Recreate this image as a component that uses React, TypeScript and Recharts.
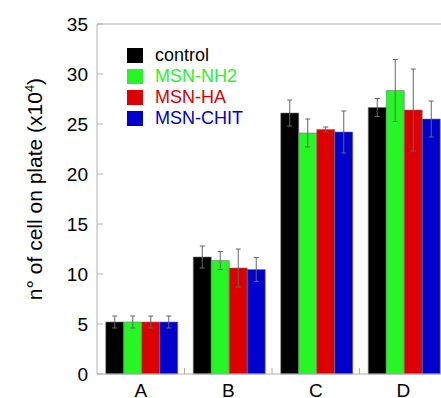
import { BarChart, Bar, XAxis, YAxis, ErrorBar, Legend, ReferenceLine } from "recharts";

const categories = ["A", "B", "C", "D"];
const controlValues = [5.2, 11.7, 26.1, 26.65];
const controlErrors = [0.6, 1.1, 1.3, 0.9];
const nh2Values = [5.2, 11.35, 24.1, 28.35];
const nh2Errors = [0.6, 0.9, 1.4, 3.1];
const haValues = [5.2, 10.6, 24.45, 26.4];
const haErrors = [0.6, 1.9, 0.25, 4.1];
const chitValues = [5.2, 10.45, 24.2, 25.5];
const chitErrors = [0.6, 1.2, 2.1, 1.8];
const yTicks = [0, 5, 10, 15, 20, 25, 30, 35];

const SERIES = [
  { key: "control", name: "control", color: "#000000", text: "#000000" },
  { key: "nh2", name: "MSN-NH2", color: "#26f526", text: "#26f526" },
  { key: "ha", name: "MSN-HA", color: "#dd0000", text: "#dd0000" },
  { key: "chit", name: "MSN-CHIT", color: "#0000cc", text: "#0000cc" },
];

const FONT = "'Liberation Sans', Arial, sans-serif";
const AXIS = "#b0b0b0";

const data = categories.map((c, i) => ({
  name: c,
  control: controlValues[i],
  controlErr: controlErrors[i],
  nh2: nh2Values[i],
  nh2Err: nh2Errors[i],
  ha: haValues[i],
  haErr: haErrors[i],
  chit: chitValues[i],
  chitErr: chitErrors[i],
}));

// category label in the middle, small inward tick on the right edge of each band
function CategoryTick(props: any) {
  const { x, y, payload, width, visibleTicksCount } = props;
  const half = payload.offset ? payload.offset : width / visibleTicksCount / 2;
  const edge = payload.coordinate + half;
  return (
    <g>
      <line x1={edge} x2={edge} y1={y} y2={y - 6} stroke={AXIS} />
      <text x={x} y={y + 23} textAnchor="middle" fill="#000" fontSize={19} fontFamily={FONT}>
        {payload.value}
      </text>
    </g>
  );
}

function YLabel(props: any) {
  const { viewBox } = props;
  const cx = viewBox.x + 42;
  const cy = viewBox.y + viewBox.height / 2 - 10;
  return (
    <text
      x={cx}
      y={cy}
      transform={`rotate(-90 ${cx} ${cy})`}
      textAnchor="middle"
      fill="#000"
      fontSize={21}
      fontFamily={FONT}
    >
      n° of cell on plate (x10
      <tspan dy={-8} fontSize={13}>4</tspan>
      <tspan dy={8}>)</tspan>
    </text>
  );
}

function LegendBox() {
  return (
    <div style={{ fontFamily: FONT }}>
      {SERIES.map((s) => (
        <div key={s.key} style={{ display: "flex", alignItems: "center", height: 21 }}>
          <div style={{ width: 16, height: 15, background: s.color, marginRight: 12 }} />
          <span style={{ color: s.text, fontSize: 18, lineHeight: "21px" }}>{s.name}</span>
        </div>
      ))}
    </div>
  );
}

export default function App() {
  return (
    <div style={{ position: "absolute", left: 0, top: 0, width: 441, height: 398, overflow: "hidden", background: "#fff" }}>
      <BarChart
        width={451}
        height={398}
        data={data}
        margin={{ top: 24, right: 4, bottom: 0, left: 0 }}
        barCategoryGap="10%"
        barGap={0}
      >
        <XAxis
          dataKey="name"
          height={24}
          stroke={AXIS}
          tickLine={false}
          tickSize={0}
          tickMargin={0}
          tick={<CategoryTick />}
        />
        <YAxis
          width={97}
          domain={[0, 35]}
          ticks={yTicks}
          stroke={AXIS}
          tickSize={-6}
          tickMargin={15}
          tick={{ fill: "#000", fontSize: 19, fontFamily: FONT }}
          label={{ content: <YLabel /> }}
        />
        <ReferenceLine y={35} stroke={AXIS} />
        <Legend
          layout="vertical"
          align="center"
          verticalAlign="middle"
          wrapperStyle={{ left: 127, top: 45, width: "auto", height: "auto" }}
          content={() => <LegendBox />}
        />
        {SERIES.map((s) => (
          <Bar
            key={s.key}
            dataKey={s.key}
            name={s.name}
            fill={s.color}
            stroke="#777"
            strokeWidth={0.6}
            isAnimationActive={false}
          >
            <ErrorBar dataKey={s.key + "Err"} width={2.5} stroke="#666" strokeWidth={1} direction="y" />
          </Bar>
        ))}
      </BarChart>
    </div>
  );
}
